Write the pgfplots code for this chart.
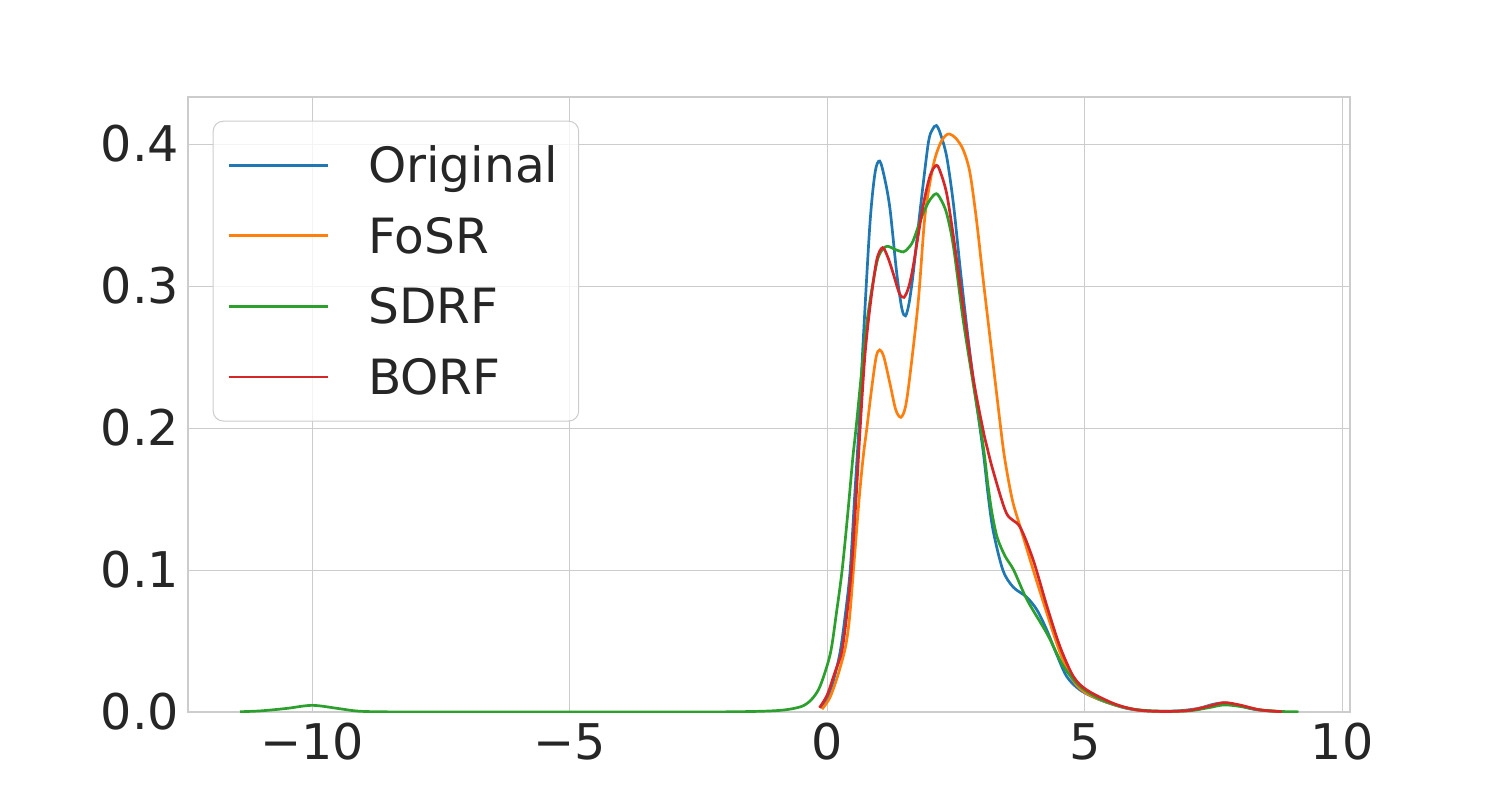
\documentclass[border=0pt]{standalone}
\usepackage{fontspec}
\setmainfont{DejaVu Sans}
\usepackage{pgfplots}
\pgfplotsset{compat=1.18}

\definecolor{tabblue}{HTML}{1F77B4}
\definecolor{taborange}{HTML}{FF7F0E}
\definecolor{tabgreen}{HTML}{2CA02C}
\definecolor{tabred}{HTML}{D62728}
\definecolor{gridgray}{HTML}{CCCCCC}
\definecolor{labelgray}{HTML}{262626}

\begin{document}
\begin{tikzpicture}
% page = 1500x800 px at 0.5pt per px
\path[use as bounding box] (-94pt,-44pt) rectangle (656pt,356pt);
\begin{axis}[
    at={(0,0)},anchor=south west,
    scale only axis,
    width=581pt,height=307.5pt,
    xmin=-12.41,xmax=10.15,
    ymin=0,ymax=0.4331,
    xtick={-10,-5,0,5,10},
    xticklabels={−10,−5,0,5,10},
    ytick={0,0.1,0.2,0.3,0.4},
    yticklabels={0.0,0.1,0.2,0.3,0.4},
    major tick length=0pt,
    grid=major,
    grid style={line width=0.5pt,gridgray},
    axis line style={line width=0.6pt,gridgray},
    tick label style={font=\fontsize{24.6}{29}\selectfont,text=labelgray,inner sep=0pt},
    xticklabel style={yshift=-5.5pt},
    yticklabel style={xshift=-4.3pt},
    legend cell align=left,
    legend style={
        at={(axis description cs:0,1)},anchor=north west,
        xshift=12.35pt,yshift=-11.85pt,
        font=\fontsize{24.3}{29}\selectfont,text=labelgray,
        draw=gridgray,line width=0.5pt,
        fill=white,fill opacity=0.8,text opacity=1,
        rounded corners=5pt,
        inner xsep=7.15pt,inner ysep=6.6pt,
        row sep=4.5pt,column sep=16.5pt,
        nodes={inner sep=3pt,text height=21pt,text depth=3.8pt}
    },
    legend image code/.code={\draw[#1,line width=1.35pt] (0pt,0pt) -- (49.5pt,0pt);},
    every axis plot/.append style={line width=1.35pt,smooth,tension=0.5}
]
% Original
\addplot[tabblue] coordinates {
 (-0.13,0.003) (0.0,0.010) (0.12,0.022) (0.25,0.042) (0.35,0.068) (0.447,0.1)
 (0.53,0.15) (0.615,0.2) (0.70,0.262) (0.83,0.344) (0.93,0.380) (1.02,0.388)
 (1.12,0.375) (1.22,0.354) (1.35,0.309) (1.45,0.284) (1.52,0.279) (1.59,0.288)
 (1.67,0.309) (1.80,0.352) (1.96,0.400) (2.04,0.410) (2.12,0.413) (2.2,0.407)
 (2.32,0.391) (2.45,0.358) (2.58,0.313) (2.71,0.271) (2.84,0.233) (3.03,0.183)
 (3.12,0.154) (3.22,0.128) (3.41,0.1) (3.61,0.088) (3.87,0.081) (4.07,0.072)
 (4.26,0.058) (4.45,0.041) (4.65,0.025) (4.91,0.0155) (5.3,0.0085) (5.81,0.0026)
 (6.3,0.0006) (6.8,0.0008) (7.2,0.0025) (7.5,0.0055) (7.7,0.0064) (7.95,0.005)
 (8.3,0.0018) (8.8,0.0002)
};
% FoSR
\addplot[taborange] coordinates {
 (-0.1,0.002) (0.05,0.01) (0.2,0.025) (0.35,0.045) (0.43,0.065) (0.51,0.1)
 (0.62,0.15) (0.70,0.18) (0.77,0.2) (0.86,0.227) (0.95,0.250) (1.02,0.255)
 (1.1,0.250) (1.22,0.231) (1.33,0.213) (1.43,0.2075) (1.52,0.215) (1.61,0.238)
 (1.77,0.29) (1.90,0.35) (2.06,0.385) (2.19,0.40) (2.30,0.406) (2.38,0.407)
 (2.50,0.404) (2.64,0.396) (2.77,0.380) (2.90,0.346) (3.03,0.304) (3.16,0.264)
 (3.29,0.224) (3.42,0.185) (3.52,0.163) (3.61,0.147) (3.75,0.13) (4.0,0.1)
 (4.27,0.069) (4.52,0.042) (4.78,0.022) (5.04,0.013) (5.5,0.006) (6.0,0.0015)
 (6.5,0.0004) (7.0,0.001) (7.4,0.004) (7.7,0.0063) (8.0,0.0048) (8.4,0.0015)
 (8.85,0.0002)
};
% SDRF
\addplot[tabgreen] coordinates {
 (-11.4,0.0002) (-11.0,0.0008) (-10.5,0.0025) (-10.0,0.0047) (-9.5,0.0025)
 (-9.1,0.0006) (-8.5,0.0001) (-7,0.0) (-5,0.0) (-3,0.0) (-2,0.0001)
 (-1.3,0.0005) (-0.9,0.0012) (-0.65,0.0025) (-0.46,0.0045) (-0.3,0.009)
 (-0.14,0.018) (0.06,0.041) (0.18,0.07) (0.29,0.1) (0.40,0.14) (0.50,0.18)
 (0.56,0.2) (0.77,0.274) (0.96,0.316) (1.08,0.326) (1.18,0.328) (1.3,0.326)
 (1.48,0.324) (1.58,0.327) (1.67,0.332) (1.86,0.351) (2.0,0.361) (2.12,0.365)
 (2.22,0.360) (2.32,0.351) (2.45,0.328) (2.64,0.276) (2.84,0.230) (3.03,0.187)
 (3.12,0.160) (3.2,0.140) (3.3,0.123) (3.45,0.11) (3.62,0.1) (3.88,0.079)
 (4.27,0.055) (4.59,0.032) (4.91,0.018) (5.3,0.009) (5.8,0.003) (6.3,0.0008)
 (7.0,0.0008) (7.4,0.003) (7.7,0.005) (8.0,0.004) (8.4,0.0015) (8.8,0.0004)
 (9.15,0.0001)
};
% BORF
\addplot[tabred] coordinates {
 (-0.15,0.003) (0.0,0.012) (0.15,0.028) (0.28,0.042) (0.38,0.068) (0.47,0.1)
 (0.56,0.15) (0.64,0.2) (0.73,0.25) (0.83,0.285) (0.96,0.318) (1.075,0.327)
 (1.18,0.320) (1.28,0.309) (1.4,0.295) (1.49,0.292) (1.58,0.299) (1.67,0.314)
 (1.86,0.356) (2.0,0.378) (2.12,0.385) (2.2,0.380) (2.32,0.365) (2.45,0.335)
 (2.64,0.285) (2.84,0.234) (3.03,0.198) (3.10,0.187) (3.22,0.17) (3.48,0.14)
 (3.74,0.1305) (4.0,0.107) (4.27,0.074) (4.52,0.046) (4.78,0.025) (5.04,0.0155)
 (5.56,0.006) (6.01,0.0015) (6.5,0.0004) (7.0,0.001) (7.4,0.004) (7.7,0.0066)
 (8.0,0.005) (8.4,0.0015) (8.83,0.0002)
};
\legend{Original,FoSR,SDRF,BORF}
\end{axis}
\end{tikzpicture}
\end{document}
